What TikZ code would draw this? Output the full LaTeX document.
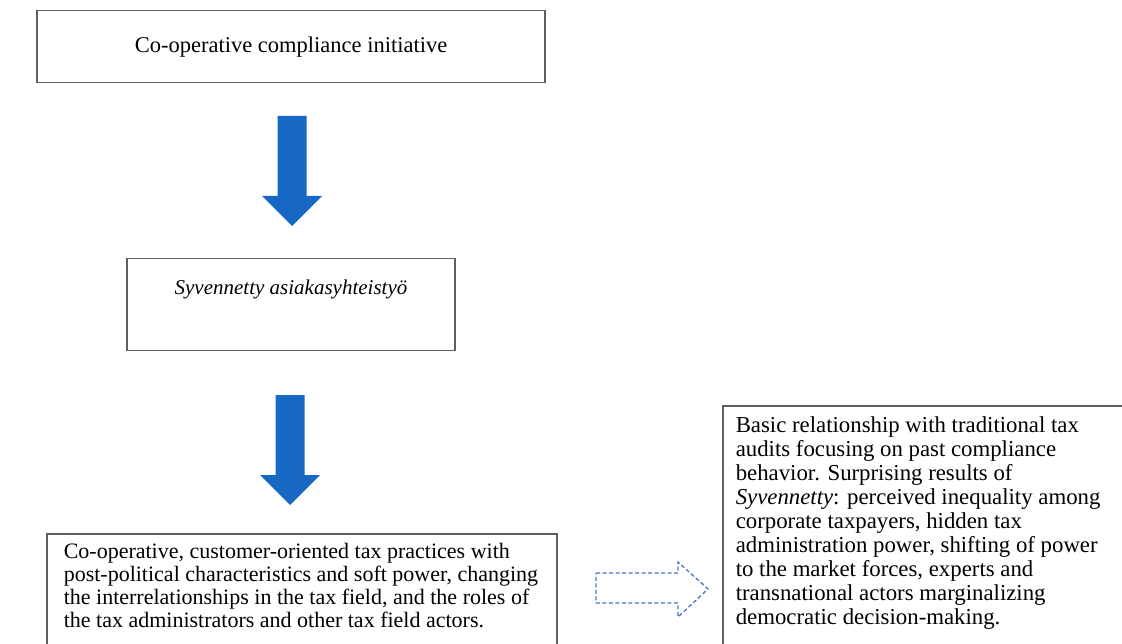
\documentclass[tikz,border=0pt]{standalone}
\usepackage{fontspec}
\setmainfont{Liberation Serif}
\usepackage{tikz}
\definecolor{pfeilblau}{RGB}{22,104,196}
\definecolor{strichblau}{RGB}{72,116,198}
\definecolor{rahmengrau}{RGB}{95,95,95}
\newcommand*{\blockPfeil}[2]{% #1 = top point, #2 = shaft length
   \fill[pfeilblau] (#1) ++(-14.5,0) -- ++(29,0) -- ++(0,#2) -- ++(15.5,0)
      -- ++(-30,30) -- ++(-30,-30) -- ++(15.5,0) -- cycle;
}

\begin{document}
\begin{tikzpicture}[
		x=1pt,
		y=-1pt,
		font=\fontsize{22}{23}\selectfont
	]
	  	\tikzstyle{kasten}=[
	  		rectangle,
	  		draw=rahmengrau,
	  		line width=1.5pt,
	  		inner sep=0pt
	  	]
	  	\tikzstyle{hohlpfeil}=[
	  		draw=strichblau,
	  		line width=1.3pt,
	  		dash pattern=on 4pt off 2.5pt
	  	]

	  	\useasboundingbox (0,0) rectangle (1122,644);
	  	\clip (0,0) rectangle (1122,644);

	  	\node[kasten, anchor=north, minimum width=508pt, text height=42pt, text depth=30pt] (initiative) at (291,10)
	  		{\fontsize{22.5}{24}\selectfont Co-operative compliance initiative};
	  	\node[kasten, anchor=north, minimum width=328pt, text height=36pt, text depth=56pt] (syvennetty) at (291,258)
	  		{\fontsize{21}{24}\selectfont\textit{Syvennetty asiakasyhteistyö}};
	  	\node[kasten, anchor=north west, inner xsep=17pt, inner ysep=9pt] (praktiken) at (46,533)
	  		{\parbox[t][130pt][t]{476pt}{\raggedright
	  		Co-operative, customer-oriented tax practices with\\
	  		post-political characteristics and soft power, changing\\
	  		the interrelationships in the tax field, and the roles of\\
	  		the tax administrators and other tax field actors.}};
	  	\node[kasten, anchor=north west, inner xsep=13pt, inner ysep=11pt] (ergebnisse) at (722,405)
	  		{\parbox[t][260pt][t]{420pt}{\raggedright\fontsize{22.8}{24}\selectfont
	  		Basic relationship with traditional tax\\
	  		audits focusing on past compliance\\
	  		behavior. Surprising results of\\
	  		\textit{Syvennetty}: perceived inequality among\\
	  		corporate taxpayers, hidden tax\\
	  		administration power, shifting of power\\
	  		to the market forces, experts and\\
	  		transnational actors marginalizing\\
	  		democratic decision-making.}};

	  	\coordinate (p1) at (292,116);
	  	\coordinate (p2) at (290,395);
	  	\blockPfeil{p1}{80};
	  	\blockPfeil{p2}{80};

	  	\draw[hohlpfeil] (596,573) -- ++(82,0) -- ++(0,-11) -- (708,589)
	  		-- (678,617) -- ++(0,-14) -- ++(-82,0) -- cycle;
	\end{tikzpicture}
\end{document}
